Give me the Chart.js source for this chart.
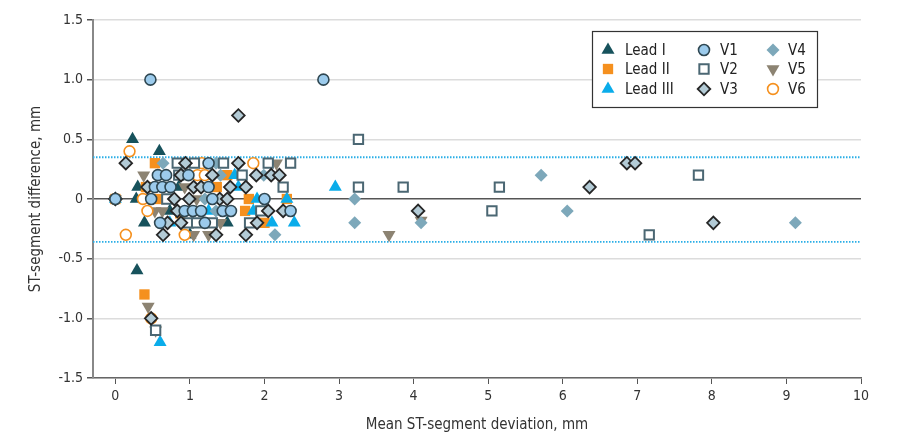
<!DOCTYPE html>
<html>
<head>
<meta charset="utf-8">
<script src="https://cdn.jsdelivr.net/npm/chart.js@4"></script>
<style>
  body { margin: 0; background: #fff; }
  #wrap { width: 924px; height: 444px; }
</style>
</head>
<body>
<div id="wrap"><canvas id="chart"></canvas></div>
<script>
// [mean deviation, difference] per lead
const leadI = [[0.23,0.5],[0.59,0.4],[0.30,0.1],[0.85,0.1],[0.28,0],[0.73,-0.1],[0.39,-0.2],[1.5,-0.2],[1.0,-0.3],[0.29,-0.6]];
const leadII = [[0,0],[0.53,0.3],[1.5,0.2],[0.41,0.1],[1.36,0.1],[0.59,0],[1.79,0],[2.3,0],[0.87,-0.12],[1.74,-0.1],[2.0,-0.2],[0.39,-0.8]];
const leadIII = [[0,0],[1.6,0.2],[1.65,0.1],[2.95,0.1],[1.9,0],[2.3,0],[1.25,-0.1],[1.85,-0.1],[0.73,-0.2],[2.1,-0.2],[2.4,-0.2],[0.6,-1.2]];
const v1 = [[0.47,1.0],[2.79,1.0],[1.25,0.3],[0.57,0.2],[0.68,0.2],[0.98,0.2],[0.53,0.1],[0.63,0.1],[0.74,0.1],[1.25,0.1],
  [0,0],[0.48,0],[1.3,0],[2.0,0],[0.93,-0.1],[1.04,-0.1],[1.15,-0.1],[1.44,-0.1],[1.55,-0.1],[2.35,-0.1],[0.6,-0.2],[1.2,-0.2]];
const v2 = [[3.26,0.5],[0.83,0.3],[1.06,0.3],[1.45,0.3],[2.05,0.3],[2.35,0.3],[0.85,0.2],[1.7,0.2],[2.25,0.1],[3.26,0.1],[3.86,0.1],
  [5.15,0.1],[7.82,0.2],[0.69,0],[1.95,-0.1],[5.05,-0.1],[0.98,-0.2],[1.09,-0.2],[1.3,-0.2],[1.8,-0.2],[7.16,-0.3],[0.54,-1.1]];
const v3 = [[1.65,0.7],[0.14,0.3],[0.94,0.3],[1.65,0.3],[6.86,0.3],[6.97,0.3],[0.88,0.2],[1.3,0.2],[1.89,0.2],[2.09,0.2],[2.2,0.2],
  [0.43,0.1],[1.05,0.1],[1.15,0.1],[1.54,0.1],[1.75,0.1],[6.36,0.1],[0,0],[0.79,0],[0.99,0],[1.4,0],[1.5,0],
  [0.83,-0.1],[2.05,-0.1],[2.25,-0.1],[4.06,-0.1],[0.7,-0.2],[0.88,-0.2],[1.9,-0.2],[8.02,-0.2],[0.64,-0.3],[1.35,-0.3],[1.75,-0.3],[0.48,-1.0]];
const v4 = [[0.64,0.3],[1.35,0.3],[1.41,0.2],[1.99,0.2],[5.71,0.2],[1.2,0],[3.21,0],[1.35,-0.1],[6.06,-0.1],[3.21,-0.2],[4.1,-0.2],[9.12,-0.2],[2.14,-0.3]];
const v5 = [[2.16,0.3],[0.38,0.2],[0.93,0.1],[0,0],[1.09,0],[0.53,-0.1],[0.63,-0.1],[1.41,-0.2],[4.1,-0.18],[1.05,-0.3],[1.25,-0.3],[3.67,-0.3],[0.44,-0.9],[0.54,-1.1]];
const v6 = [[0.19,0.4],[1.16,0.3],[1.85,0.3],[1.1,0.2],[1.2,0.2],[0,0],[0.37,0],[0.43,-0.1],[0.14,-0.3],[0.93,-0.3],[0.48,-1.0]];

const upperLimit = 0.35;
const lowerLimit = -0.36;
const xTicks = [0,1,2,3,4,5,6,7,8,9,10];
const yTicks = [-1.5,-1.0,-0.5,0,0.5,1.0,1.5];

const FONT = "'Liberation Sans Narrow', 'DejaVu Sans Condensed', 'Noto Sans', sans-serif";

const toPts = arr => arr.map(p => ({x: p[0], y: p[1]}));

// legend entries: label, style, column, row
const series = [
  {label: 'Lead I',   data: leadI,   style: 'triangle', rot: 0,   r: 7.5, bg: '#17525c', bc: '#17525c', bw: 0,   col: 0, row: 0},
  {label: 'Lead II',  data: leadII,  style: 'rect',     rot: 0,   r: 7.3, bg: '#f5901e', bc: '#f5901e', bw: 0,   col: 0, row: 1},
  {label: 'Lead III', data: leadIII, style: 'triangle', rot: 0,   r: 7.5, bg: '#0aacea', bc: '#0aacea', bw: 0,   col: 0, row: 2},
  {label: 'V1',       data: v1,      style: 'circle',   rot: 0,   r: 5.5, bg: '#9ccbec', bc: '#2f4752', bw: 1.6, col: 1, row: 0},
  {label: 'V2',       data: v2,      style: 'rect',     rot: 0,   r: 6.6, bg: '#ffffff', bc: '#4b6773', bw: 2,   col: 1, row: 1},
  {label: 'V3',       data: v3,      style: 'rectRot',  rot: 0,   r: 6.3, bg: '#b3cbd6', bc: '#262626', bw: 1.8, col: 1, row: 2},
  {label: 'V4',       data: v4,      style: 'rectRot',  rot: 0,   r: 6.5, bg: '#7da8ba', bc: '#7da8ba', bw: 0,   col: 2, row: 0},
  {label: 'V5',       data: v5,      style: 'triangle', rot: 180, r: 7.5, bg: '#8c8372', bc: '#8c8372', bw: 0,   col: 2, row: 1},
  {label: 'V6',       data: v6,      style: 'circle',   rot: 0,   r: 5.4, bg: '#ffffff', bc: '#f5901e', bw: 1.6, col: 2, row: 2}
];

// draw order: first dataset ends on top
const drawOrder = ['V1','V3','V2','V6','V4','V5','Lead III','Lead II','Lead I'];

const datasets = drawOrder.map(name => {
  const s = series.find(d => d.label === name);
  return {
    type: 'scatter',
    label: s.label,
    data: toPts(s.data),
    pointStyle: s.style,
    pointRadius: s.r,
    pointRotation: s.rot,
    pointBackgroundColor: s.bg,
    pointBorderColor: s.bc,
    pointBorderWidth: s.bw,
    showLine: false
  };
});

[upperLimit, lowerLimit].forEach(v => {
  datasets.push({
    type: 'line',
    label: 'limit',
    data: [{x: -0.3, y: v}, {x: 10, y: v}],
    borderColor: '#2aaee6',
    borderWidth: 1.8,
    borderDash: [1.5, 1.5],
    pointRadius: 0,
    fill: false
  });
});

const boxLegend = {
  id: 'boxLegend',
  afterDraw(chart) {
    const ctx = chart.ctx;
    const left = 592, top = 31, w = 225, h = 76;
    const markX = [608, 704, 773];
    const textX = [625, 720, 788];
    const rowY = [50, 69, 89];
    ctx.save();
    ctx.fillStyle = '#fff';
    ctx.fillRect(left, top, w, h);
    ctx.strokeStyle = '#333';
    ctx.lineWidth = 1.2;
    ctx.strokeRect(left + 0.5, top + 0.5, w, h);
    series.forEach(s => {
      const x = markX[s.col], y = rowY[s.row];
      ctx.fillStyle = s.bg;
      ctx.strokeStyle = s.bc;
      ctx.lineWidth = s.bw;
      Chart.helpers.drawPoint(ctx, {pointStyle: s.style, radius: s.r, rotation: s.rot, borderWidth: s.bw}, x, y);
      ctx.fillStyle = '#222';
      ctx.font = "15px " + FONT;
      ctx.textBaseline = 'middle';
      ctx.textAlign = 'left';
      ctx.fillText(s.label, textX[s.col], y + 1);
    });
    ctx.restore();
  }
};

new Chart(document.getElementById('chart').getContext('2d'), {
  data: { datasets: datasets },
  options: {
    responsive: true,
    maintainAspectRatio: false,
    animation: false,
    layout: { padding: { top: 20, right: 63, left: 0, bottom: 0 } },
    scales: {
      x: {
        type: 'linear',
        min: -0.3,
        max: 10,
        afterBuildTicks: s => { s.ticks = xTicks.map(v => ({value: v})); },
        afterFit: s => { s.height = 66; },
        ticks: { color: '#333', font: { family: FONT, size: 14 }, padding: 4, maxRotation: 0 },
        grid: { display: true, drawOnChartArea: false, tickLength: 6, tickColor: '#555', tickWidth: 1 },
        border: { color: '#666', width: 1.5 },
        title: { display: true, text: 'Mean ST-segment deviation, mm', color: '#333',
                 font: { family: FONT, size: 15 }, padding: { top: 8, bottom: 10 } }
      },
      y: {
        type: 'linear',
        min: -1.5,
        max: 1.5,
        afterBuildTicks: s => { s.ticks = yTicks.map(v => ({value: v})); },
        afterFit: s => { s.width = 93; },
        ticks: { color: '#333', font: { family: FONT, size: 14 }, padding: 4,
                 callback: v => v === 0 ? '0' : v.toFixed(1) },
        grid: {
          tickLength: 6,
          tickColor: '#555',
          color: c => c.tick && c.tick.value === 0 ? '#555' : '#dcdcdc',
          lineWidth: 1.5
        },
        border: { color: '#888', width: 2 },
        title: { display: true, text: 'ST-segment difference, mm', color: '#333',
                 font: { family: FONT, size: 15 }, padding: { top: 27, bottom: 4 } }
      }
    },
    plugins: {
      legend: { display: false },
      tooltip: { enabled: false }
    }
  },
  plugins: [boxLegend]
});
</script>
</body>
</html>
